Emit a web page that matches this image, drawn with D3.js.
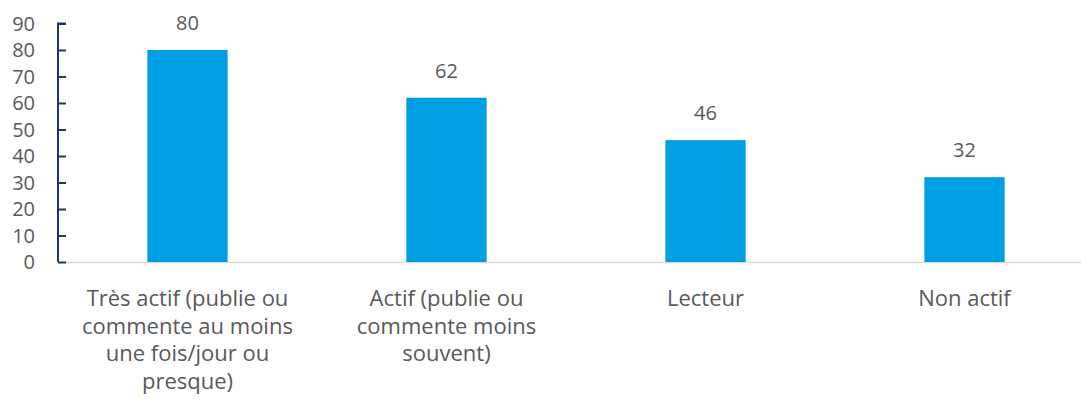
<!DOCTYPE html>
<html>
<head>
  <meta charset="utf-8">
  <script src="https://d3js.org/d3.v7.min.js"></script>
  <style>
    body { margin: 0; background: #fff; }
    text { font-family: "Open Sans", "Noto Sans", sans-serif; fill: #595959; }
  </style>
</head>
<body>
  <div id="chart"></div>
  <script>
    // data
    var categories = [
      ["Très actif (publie ou", "commente au moins", "une fois/jour ou", "presque)"],
      ["Actif (publie ou", "commente moins", "souvent)"],
      ["Lecteur"],
      ["Non actif"]
    ];
    var values = [80, 62, 46, 32];
    var yTicks = [0, 10, 20, 30, 40, 50, 60, 70, 80, 90];

    var width = 1081, height = 405;
    var margin = { top: 23.5, left: 58, bottom: 143 };

    var svg = d3.select("#chart").append("svg")
      .attr("width", width)
      .attr("height", height);

    var x = d3.scaleBand()
      .domain(d3.range(values.length))
      .range([margin.left, margin.left + 259 * values.length])
      .paddingInner(0.69)
      .paddingOuter(0.345);

    var y = d3.scaleLinear()
      .domain([0, 90])
      .range([height - margin.bottom, margin.top]);

    // baseline
    svg.append("line")
      .attr("x1", margin.left).attr("x2", width)
      .attr("y1", y(0) + 0.5).attr("y2", y(0) + 0.5)
      .attr("stroke", "#d9d9d9")
      .attr("stroke-width", 1.5);

    // bars
    svg.selectAll("rect.bar")
      .data(values)
      .enter().append("rect")
      .attr("class", "bar")
      .attr("x", function (d, i) { return x(i); })
      .attr("y", function (d) { return y(d); })
      .attr("width", x.bandwidth())
      .attr("height", function (d) { return y(0) - y(d); })
      .attr("fill", "#009fe3");

    // value labels
    svg.selectAll("text.val")
      .data(values)
      .enter().append("text")
      .attr("class", "val")
      .attr("x", function (d, i) { return x(i) + x.bandwidth() / 2; })
      .attr("y", function (d) { return y(d) - 20; })
      .attr("text-anchor", "middle")
      .style("font-size", "20px")
      .text(function (d) { return d; });

    // y axis, ticks pointing inward
    var yAxis = d3.axisRight(y)
      .tickValues(yTicks)
      .tickSize(8)
      .tickFormat("");

    var ag = svg.append("g")
      .attr("transform", "translate(" + margin.left + ",0)")
      .call(yAxis);
    ag.select(".domain").attr("stroke", "#1f3864").attr("stroke-width", 2)
      .attr("d", "M8," + y(90) + "H0V" + y(0));
    ag.selectAll(".tick line").attr("stroke", "#1f3864").attr("stroke-width", 2);

    svg.append("g").selectAll("text")
      .data(yTicks)
      .enter().append("text")
      .attr("x", 35)
      .attr("y", function (d) { return y(d); })
      .attr("dy", "0.35em")
      .attr("text-anchor", "end")
      .style("font-size", "20px")
      .text(function (d) { return d; });

    // category labels
    var cat = svg.append("g").selectAll("text")
      .data(categories)
      .enter().append("text")
      .attr("x", function (d, i) { return x(i) + x.bandwidth() / 2; })
      .attr("y", 306)
      .attr("text-anchor", "middle")
      .style("font-size", "22px");

    cat.selectAll("tspan")
      .data(function (d) { return d; })
      .enter().append("tspan")
      .attr("x", function () { return d3.select(this.parentNode).attr("x"); })
      .attr("dy", function (d, i) { return i === 0 ? 0 : 27.5; })
      .text(function (d) { return d; });
  </script>
</body>
</html>
